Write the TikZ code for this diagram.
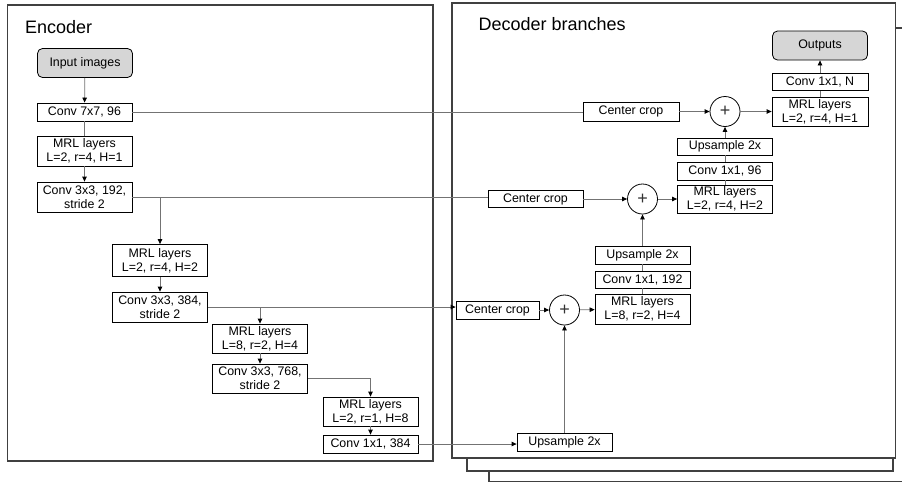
\documentclass[tikz,border=0pt]{standalone}
\usepackage{fontspec}
\setmainfont{Liberation Sans}
\usetikzlibrary{arrows.meta}
\begin{document}
\begin{tikzpicture}[x=1pt,y=-1pt,
  box/.style={draw=black, line width=0.8pt, fill=white, inner sep=0pt, minimum width=95pt, align=center, font=\fontsize{12.4}{14.3}\selectfont},
  b1/.style={box, minimum height=18pt},
  b2/.style={box, minimum height=30pt},
  term/.style={box, rounded corners=5pt, fill=black!16, minimum height=29pt},
  sumc/.style={circle, draw=black, line width=0.8pt, fill=white, minimum size=30pt, inner sep=0pt, text=black!80, font=\fontsize{18}{18}\selectfont},
  conn/.style={draw=black!55, line width=0.8pt},
  arr/.style={conn, -{Triangle[length=5pt,width=4.5pt,color=black]}},
  frame/.style={draw=black!75, line width=1.4pt, fill=white},
  title/.style={anchor=base west, font=\fontsize{18}{18}\selectfont}
]
\useasboundingbox (0,0) rectangle (902,483);
\clip (0,0) rectangle (902,483);
% frames
\draw[frame] (489,28) rectangle (930,481.5);
\draw[frame] (467,20) rectangle (893,471);
\draw[frame] (452,3) rectangle (895.5,458);
\draw[frame] (7.5,5) rectangle (433,461);
\node[title] (tenc) at (21.5,33) {Encoder};
\node[title] (tdec) at (475,30.5) {Decoder branches};
% encoder
\node[term] (inp) at (85,63) {Input images};
\node[b1] (c7) at (84.5,112) {Conv 7x7, 96};
\node[b2] (m1) at (84.5,151) {MRL layers\\L=2, r=4, H=1};
\node[b2] (c3a) at (84.5,197) {Conv 3x3, 192,\\stride 2};
\node[b2, minimum height=32pt] (m2) at (160,260.5) {MRL layers\\L=2, r=4, H=2};
\node[b2] (c3b) at (160,307) {Conv 3x3, 384,\\stride 2};
\node[b2, minimum height=29pt] (m3) at (260,338.5) {MRL layers\\L=8, r=2, H=4};
\node[b2, minimum height=29pt] (c3c) at (260,378.5) {Conv 3x3, 768,\\stride 2};
\node[b2, minimum height=29pt] (m4) at (370.5,411.5) {MRL layers\\L=2, r=1, H=8};
\node[b1] (c1) at (370.5,444) {Conv 1x1, 384};
% decoder
\node[b1, minimum width=96pt, minimum height=19pt] (cc1) at (631,111.5) {Center crop};
\node[sumc] (p1) at (725,111.5) {+};
\node[b2, minimum width=96pt, minimum height=29pt] (d1) at (820,111.5) {MRL layers\\L=2, r=4, H=1};
\node[b1, minimum width=96pt, minimum height=17pt] (cN) at (820,82) {Conv 1x1, N};
\node[term] (out) at (820,45.5) {Outputs};
\node[b1, minimum height=17pt] (u1) at (725,146.5) {Upsample 2x};
\node[b1] (c96) at (725,171) {Conv 1x1, 96};
\node[b2, minimum height=28pt] (d2) at (725,199) {MRL layers\\L=2, r=4, H=2};
\node[b1, minimum height=17pt] (cc2) at (535.5,199) {Center crop};
\node[sumc] (p2) at (642.5,199) {+};
\node[b1] (u2) at (642.5,255) {Upsample 2x};
\node[b1, minimum height=17pt] (c192) at (642.5,279.5) {Conv 1x1, 192};
\node[b2] (d3) at (642.5,309) {MRL layers\\L=8, r=2, H=4};
\node[b1, minimum width=83pt] (cc3) at (497.5,310) {Center crop};
\node[sumc] (p3) at (564.5,310) {+};
\node[b1] (u3) at (564.5,442) {Upsample 2x};
% encoder connectors
\draw[arr] (inp) -- (c7);
\draw[conn] (c7) -- (m1);
\draw[arr] (m1) -- (c3a);
\draw[conn] (c7.east) -- (c7.east -| cc1.west);
\draw[conn] (c3a.east) -- (c3a.east -| cc2.west);
\draw[arr] (c3a.east -| m2.north) -- (m2.north);
\draw[arr] (m2) -- (c3b);
\draw[arr] (c3b.east) -- (c3b.east -| cc3.west);
\draw[arr] (c3b.east -| m3.north) -- (m3.north);
\draw[arr] (m3) -- (c3c);
\draw[arr] (c3c.east) -| (m4.north);
\draw[arr] (m4) -- (c1);
\draw[arr] (c1.east) -- (c1.east -| u3.west);
% decoder connectors
\draw[arr] (u3) -- (p3);
\draw[arr] (cc3) -- (p3);
\draw[arr] (p3) -- (d3);
\draw[conn] (d3) -- (c192);
\draw[conn] (c192) -- (u2);
\draw[arr] (u2) -- (p2);
\draw[arr] (cc2) -- (p2);
\draw[arr] (p2) -- (d2);
\draw[conn] (d2) -- (c96);
\draw[conn] (c96) -- (u1);
\draw[arr] (u1) -- (p1);
\draw[arr] (cc1) -- (p1);
\draw[arr] (p1) -- (d1);
\draw[conn] (d1) -- (cN);
\draw[arr] (cN) -- (out);
\end{tikzpicture}
\end{document}
